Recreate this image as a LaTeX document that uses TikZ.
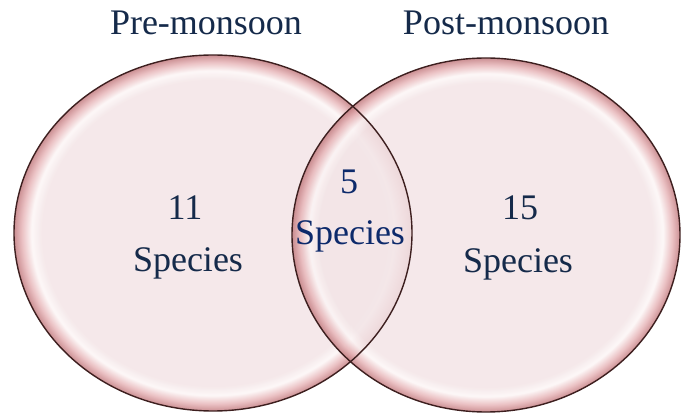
\documentclass[tikz,border=0pt]{standalone}
\usepackage{fontspec}
\setmainfont{Liberation Serif}
\newfontfamily\timesfont{Liberation Serif}
\usetikzlibrary{positioning}
\definecolor{ink}{HTML}{152A4A}
\definecolor{inkblue}{HTML}{0D2A6B}
\definecolor{rim}{HTML}{3D1F1F}
\definecolor{bubblein}{HTML}{F3E4E6}
\definecolor{bubblehi}{HTML}{FCF6F6}
\definecolor{bubblemid}{HTML}{E7B6B9}
\definecolor{bubbleout}{HTML}{C27C80}
\pgfdeclareradialshading{bubble}{\pgfpointorigin}{color(0bp)=(bubblein); color(21.5bp)=(bubblein); color(22.8bp)=(bubblehi); color(24bp)=(bubblemid); color(25bp)=(bubbleout); color(50bp)=(bubbleout)}

\begin{document}
\begin{tikzpicture}[x=1pt, y=-1pt,
    tag/.style={font=\timesfont\fontsize{36}{40}\selectfont, text=ink, anchor=base, inner sep=0pt},
    set/.style={shading=bubble, fill opacity=0.85}]
  \useasboundingbox (0,0) rectangle (681,414);

  % Sets
  \shade[set] (213,233) ellipse [x radius=199, y radius=178];
  \shade[set] (486,235) ellipse [x radius=194, y radius=177];
  \draw[rim, line width=1.4pt] (213,233) ellipse [x radius=199, y radius=178];
  \draw[rim, line width=1.4pt] (486,235) ellipse [x radius=194, y radius=177];

  % Titles
  \node[tag] (preTitle) at (206,35) {Pre-monsoon};
  \node[tag] (postTitle) at (506,35) {Post-monsoon};

  % Counts
  \node[tag] (preNum) at (185,220) {11};
  \node[tag] (preSp) at ([yshift=-52pt]preNum.base -| 188,0) {Species};
  \node[tag, text=inkblue] (bothNum) at (349,194) {5};
  \node[tag, text=inkblue] (bothSp) at ([yshift=-51pt]bothNum.base -| 350,0) {Species};
  \node[tag] (postNum) at (520,220) {15};
  \node[tag] (postSp) at ([yshift=-53pt]postNum.base -| 518,0) {Species};
\end{tikzpicture}
\end{document}
